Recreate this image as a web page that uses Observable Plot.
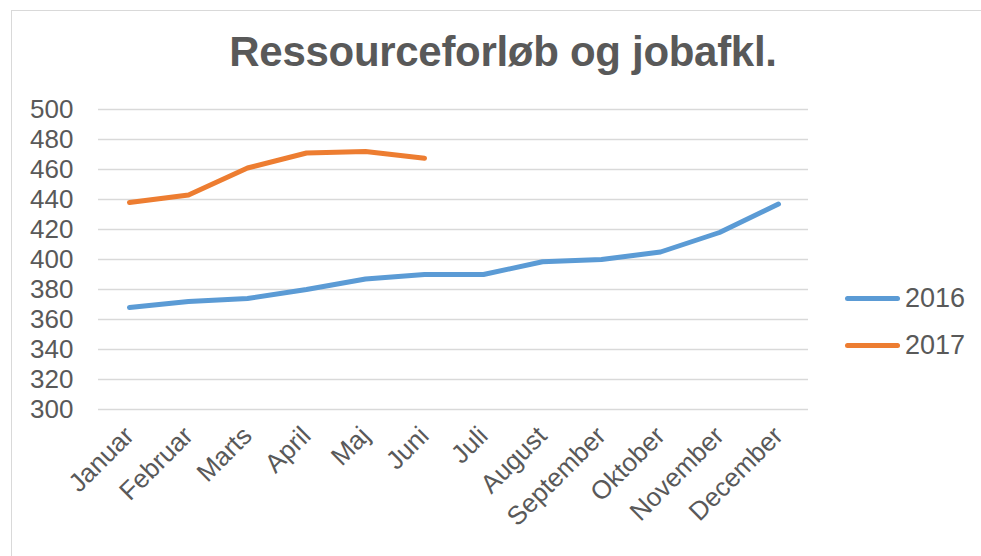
<!DOCTYPE html>
<html>
<head>
<meta charset="utf-8">
<script src="https://cdn.jsdelivr.net/npm/d3@7"></script>
<script src="https://cdn.jsdelivr.net/npm/@observablehq/plot@0.6"></script>
<style>
  html, body { margin: 0; padding: 0; background: #fff; }
  #wrap { position: relative; width: 981px; height: 556px; overflow: hidden; font-family: "Liberation Sans", Arial, sans-serif; color: #595959; }
  #frame { position: absolute; left: 11px; top: 10px; width: 1000px; height: 600px; border-top: 1px solid #d9d9d9; border-left: 1px solid #d9d9d9; }
  #title { position: absolute; left: 0; width: 1006px; top: 31px; text-align: center; font-size: 42px; font-weight: bold; line-height: 1; letter-spacing: -0.3px; }
  #chart { position: absolute; left: 0; top: 0; }
  .leg { position: absolute; left: 845px; height: 30px; display: flex; align-items: center; font-size: 27px; }
  .leg .sw { width: 55px; height: 5px; border-radius: 3px; margin-right: 5px; }
</style>
</head>
<body>
<div id="wrap">
  <div id="frame"></div>
  <div id="title"></div>
  <div id="chart"></div>
  <div id="legend"></div>
</div>
<script>
const titleText = "Ressourceforløb og jobafkl.";
const months = ["Januar", "Februar", "Marts", "April", "Maj", "Juni", "Juli", "August", "September", "Oktober", "November", "December"];
const seriesNames = ["2016", "2017"];
const values2016 = [368, 372, 374, 380, 387, 390, 390, 398.5, 400, 405, 418, 437];
const values2017 = [438, 443, 461, 471, 472, 467.5];
const yTicks = [300, 320, 340, 360, 380, 400, 420, 440, 460, 480, 500];
const colors = ["#5B9BD5", "#ED7D31"];

const data = [
  ...values2016.map((v, i) => ({month: months[i], value: v, series: seriesNames[0]})),
  ...values2017.map((v, i) => ({month: months[i], value: v, series: seriesNames[1]}))
];

document.getElementById("title").textContent = titleText;

const chart = Plot.plot({
  width: 981,
  height: 556,
  marginLeft: 98,
  marginRight: 173,
  marginTop: 109,
  marginBottom: 147,
  style: {fontFamily: "'Liberation Sans', Arial, sans-serif", fontSize: "26px", color: "#595959", background: "transparent", overflow: "visible"},
  x: {type: "point", domain: months, padding: 0.5},
  y: {domain: [300, 500]},
  color: {domain: seriesNames, range: colors},
  marks: [
    Plot.ruleY(yTicks, {stroke: "#d9d9d9", strokeWidth: 1.3}),
    Plot.axisY({ticks: yTicks, tickSize: 0, tickPadding: 25, fontSize: 26, label: null}),
    Plot.axisX({tickRotate: -45, tickSize: 0, tickPadding: 22, fontSize: 26, label: null, dx: 0}),
    Plot.line(data, {x: "month", y: "value", stroke: "series", strokeWidth: 5, strokeLinecap: "round", strokeLinejoin: "round"})
  ]
});
document.getElementById("chart").appendChild(chart);

const legend = document.getElementById("legend");
const legendTops = [283, 330];
seriesNames.forEach((name, i) => {
  const row = document.createElement("div");
  row.className = "leg";
  row.style.top = legendTops[i] + "px";
  const sw = document.createElement("div");
  sw.className = "sw";
  sw.style.background = colors[i];
  const t = document.createElement("span");
  t.textContent = name;
  row.appendChild(sw);
  row.appendChild(t);
  legend.appendChild(row);
});
</script>
</body>
</html>
